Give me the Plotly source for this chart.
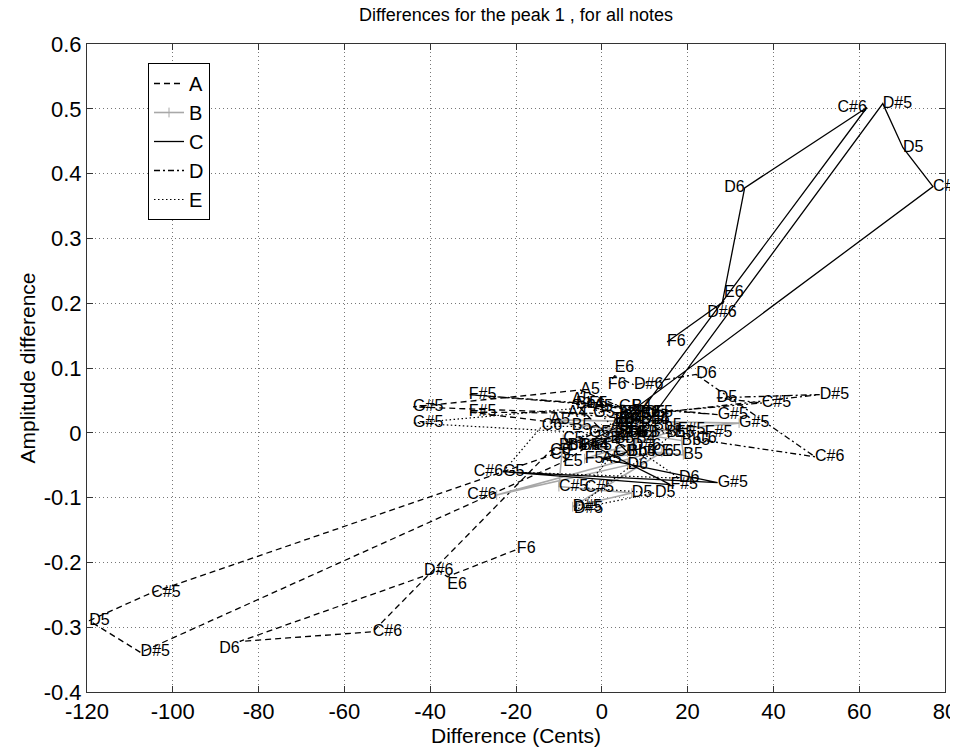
import plotly.graph_objects as go

notes = ["A4", "Bb4", "B4", "C5", "C#5", "D5", "D#5", "E5", "F5", "F#5", "G5",
         "G#5", "A5", "Bb5", "B5", "C6", "C#6", "D6", "D#6", "E6", "F6"]

A_x = [4, -6, 2, -12, -105, -119.5, -107.5, -9, 3, -31, -2, -44, -5, 8, -8, -12, -53.4, -84.4, -38, -36, -19.8]
A_y = [0.03, 0.045, -0.01, -0.035, -0.247, -0.29, -0.339, -0.045, 0.005, 0.032, 0.03, 0.040, 0.066, 0.03, -0.02, -0.028, -0.307, -0.322, -0.213, -0.222, -0.18]

B_x = [-3, 6, 8, -9, -10, 7, -6.8, 14, -4, 17.7, 8, 32, -12, 18.6, 19, 12, -24.5, 6, 9, 3, 6]
B_y = [-0.02, -0.03, -0.01, -0.01, -0.083, -0.093, -0.114, -0.03, -0.04, 0.005, 0.0, 0.015, 0.02, -0.012, -0.034, -0.03, -0.096, -0.05, 0.02, 0.02, 0.0]

C_x = [5, -5, 4, 4.2, 77.2, 70.2, 65.5, 9, -2, 16, -23, 27, 0, 6, 3, 6.5, 61.8, 33.3, 28, 28.5, 15.2]
C_y = [0.0, -0.02, 0.01, 0.02, 0.38, 0.44, 0.508, 0.0, -0.02, -0.08, -0.06, -0.077, -0.04, -0.03, -0.01, 0.01, 0.502, 0.378, 0.198, 0.203, 0.14]

D_x = [-8, 9, 7, 10, 37.3, 26.8, 50.8, 12, -3, -31, 4, 27, -7, 12, 15, 22, 49.7, 22, 7.5, 3, 1.4]
D_y = [0.03, 0.02, 0.04, 0.03, 0.046, 0.054, 0.059, 0.03, 0.045, 0.059, 0.04, 0.028, 0.05, 0.01, 0.0, -0.01, -0.037, 0.09, 0.074, 0.088, 0.074]

E_x = [2, -10, 5, 3, -4, 12.4, -6.5, 17, 4, 24, -3, -44, -2, 4, -7, -14, -23, 18, 7, 9, 3]
E_y = [0.01, -0.02, 0.02, -0.03, -0.085, -0.093, -0.118, 0.0, 0.03, 0.0, 0.0, 0.015, 0.04, 0.0, 0.01, 0.01, -0.06, -0.07, -0.02, 0.03, 0.02]

x_ticks = [-120, -100, -80, -60, -40, -20, 0, 20, 40, 60, 80]
x_ticklabels = ["-120", "-100", "-80", "-60", "-40", "-20", "0", "20", "40", "60", "80"]
y_ticks = [-0.4, -0.3, -0.2, -0.1, 0, 0.1, 0.2, 0.3, 0.4, 0.5, 0.6]
y_ticklabels = ["-0.4", "-0.3", "-0.2", "-0.1", "0", "0.1", "0.2", "0.3", "0.4", "0.5", "0.6"]

FONT = "Liberation Sans, Arial, sans-serif"

# label placement (style)
def positions(overrides):
    p = ["middle right"] * len(notes)
    for k, v in overrides.items():
        p[notes.index(k)] = v
    return p

series = [
    ("A", A_x, A_y, dict(color="black", width=1.3, dash="6px,4px"), None,
     positions({"D#6": "middle center", "E6": "bottom right", "D6": "bottom left"})),
    ("B", B_x, B_y, dict(color="#a8a8a8", width=1.6),
     dict(symbol="line-ns", size=7, color="#a8a8a8", line=dict(width=1, color="#a8a8a8")),
     positions({"C#6": "middle left"})),
    ("C", C_x, C_y, dict(color="black", width=1.3), None,
     positions({"C#6": "middle left", "D6": "middle left", "D#6": "bottom center", "E6": "top right"})),
    ("D", D_x, D_y, dict(color="black", width=1.3, dash="6px,3px,2px,3px"), None,
     positions({"E6": "top right"})),
    ("E", E_x, E_y, dict(color="black", width=1.2, dash="1.5px,2.5px"), None,
     positions({"C#6": "middle left"})),
]

fig = go.Figure()
for name, xs, ys, line, marker, tpos in series:
    fig.add_trace(go.Scatter(
        x=xs, y=ys, name=name, mode="lines+markers" if marker else "lines",
        line=line, marker=marker, cliponaxis=False))
for name, xs, ys, line, marker, tpos in series:
    fig.add_trace(go.Scatter(
        x=xs, y=ys, mode="text", text=notes, textposition=tpos, showlegend=False,
        textfont=dict(family=FONT, size=16, color="black"),
        cliponaxis=False, hoverinfo="skip"))

axis_common = dict(
    showline=True, linecolor="#333", linewidth=1, mirror="ticks",
    ticks="inside", ticklen=6, tickcolor="#333",
    showgrid=True, gridcolor="#777", griddash="1px,3px", gridwidth=1,
    zeroline=False, automargin=False,
    tickfont=dict(family=FONT, size=22, color="black"),
)

# the page body adds an 8px offset, so the figure is sized to land the plot at the reference spot
W, H = 950, 740
fig.update_layout(
    width=W, height=H,
    margin=dict(l=79, r=13, t=36, b=56, autoexpand=False),
    paper_bgcolor="white", plot_bgcolor="white",
    title=dict(text="Differences for the peak 1 , for all notes", x=0.5, xref="paper", xanchor="center",
               y=1.0, yref="container", yanchor="top", automargin=False, pad=dict(t=0, b=0),
               font=dict(family=FONT, size=18, color="black")),
    xaxis=dict(range=[-120, 80], tickvals=x_ticks, ticktext=x_ticklabels,
               title=dict(text="Difference (Cents)", standoff=2,
                          font=dict(family=FONT, size=21, color="black")),
               **axis_common),
    yaxis=dict(range=[-0.4, 0.6], tickvals=y_ticks, ticktext=y_ticklabels,
               title=dict(text="Amplitude difference", standoff=2,
                          font=dict(family=FONT, size=21, color="black")),
               **axis_common),
    legend=dict(x=(148 - 87) / 858, y=(692 - 63) / 648, xanchor="left", yanchor="top",
                bordercolor="black", borderwidth=1, bgcolor="white", itemwidth=30,
                font=dict(family=FONT, size=20, color="black"),
                tracegroupgap=0),
    showlegend=True,
)

fig.write_html("out.html")
